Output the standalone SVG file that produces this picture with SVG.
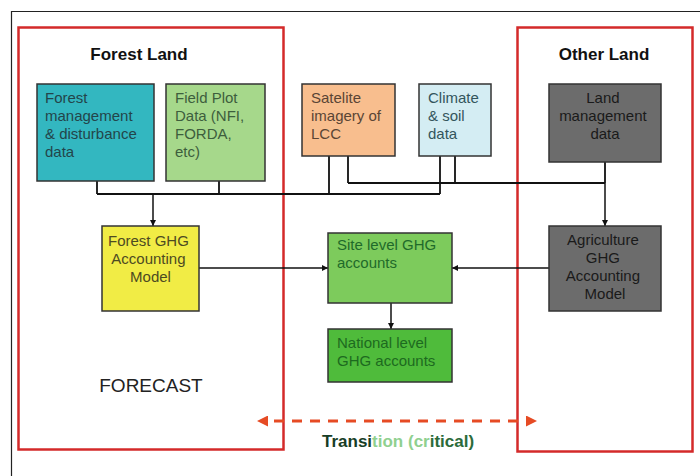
<svg xmlns="http://www.w3.org/2000/svg" width="700" height="476" viewBox="0 0 700 476">
  <defs>
    <style>
      text { font-family: "Liberation Sans", Arial, sans-serif; }
      .box { stroke: #333333; stroke-width: 1.5; }
      .zone { fill: none; stroke: #d42a2a; stroke-width: 2.5; }
      .lbl { font-size: 15px; }
      .title { font-size: 17px; font-weight: bold; fill: #111111; text-anchor: middle; }
      .wire { fill: none; stroke: #111111; stroke-width: 1.8; }
      .flow { fill: none; stroke: #111111; stroke-width: 1.5; marker-end: url(#tip); }
      .mid { text-anchor: middle; }
    </style>
    <marker id="tip" viewBox="0 0 10 10" refX="10" refY="5" markerWidth="6" markerHeight="6" markerUnits="userSpaceOnUse" orient="auto">
      <path d="M0,0 L10,5 L0,10 Z" fill="#111111"/>
    </marker>
    <!-- red head sits beyond the line end so the dash never pokes through the tip -->
    <marker id="redtip" viewBox="0 0 10 10" refX="0" refY="5" markerWidth="11" markerHeight="11" markerUnits="userSpaceOnUse" orient="auto-start-reverse">
      <path d="M0,0 L10,5 L0,10 Z" fill="#e64b24"/>
    </marker>
  </defs>

  <rect x="0" y="0" width="700" height="476" fill="#ffffff"/>
  <!-- outer frame -->
  <path d="M11.5,476 V11.5 H700" fill="none" stroke="#222222" stroke-width="1.2"/>

  <!-- land-use zones -->
  <g id="forest-land">
    <rect class="zone" x="18.5" y="27.5" width="265" height="422"/>
    <text class="title" x="139" y="60">Forest Land</text>
    <text x="151" y="392" font-size="19" fill="#222222" text-anchor="middle">FORECAST</text>
  </g>
  <g id="other-land">
    <rect class="zone" x="517.5" y="27.5" width="175" height="424"/>
    <text class="title" x="604" y="60">Other Land</text>
  </g>

  <!-- connectors -->
  <g id="connectors">
    <!-- lower data bus -->
    <path class="wire" d="M97,181 V194 M219,181 V194 M329,156 V194 M440,156 V194 M97,194 H440"/>
    <!-- upper data bus -->
    <path class="wire" d="M348,156 V183 M455,156 V183 M605,162 V183 M348,183 H605"/>
    <path class="flow" d="M153,194 V226"/>
    <path class="flow" d="M605,183 V226"/>
    <path class="flow" d="M199,268 H328"/>
    <path class="flow" d="M549,268 H452"/>
    <path class="flow" d="M391,303 V329"/>
    <!-- transition -->
    <path d="M268,421 H526" fill="none" stroke="#e64b24" stroke-width="3.2" stroke-dasharray="10,8" stroke-dashoffset="-6" marker-start="url(#redtip)" marker-end="url(#redtip)"/>
  </g>

  <g id="forest-mgmt">
    <rect class="box" x="37" y="84" width="117" height="97" fill="#33b7c0"/>
    <text class="lbl" fill="#23454a">
      <tspan x="45" y="103">Forest</tspan>
      <tspan x="45" y="121">management</tspan>
      <tspan x="45" y="139">&amp; disturbance</tspan>
      <tspan x="45" y="157">data</tspan>
    </text>
  </g>

  <g id="field-plot">
    <rect class="box" x="166" y="84" width="99" height="97" fill="#a6d88b"/>
    <text class="lbl" fill="#3d5e3d">
      <tspan x="175" y="103">Field Plot</tspan>
      <tspan x="175" y="121">Data (NFI,</tspan>
      <tspan x="175" y="139">FORDA,</tspan>
      <tspan x="175" y="157">etc)</tspan>
    </text>
  </g>

  <g id="satellite">
    <rect class="box" x="302" y="84" width="93" height="72" fill="#f8be8e"/>
    <text class="lbl" fill="#5a4535">
      <tspan x="311" y="103">Satelite</tspan>
      <tspan x="311" y="121">imagery of</tspan>
      <tspan x="311" y="139">LCC</tspan>
    </text>
  </g>

  <g id="climate-soil">
    <rect class="box" x="419" y="84" width="72" height="72" fill="#d4edf3"/>
    <text class="lbl" fill="#33555c">
      <tspan x="428" y="103">Climate</tspan>
      <tspan x="428" y="121">&amp; soil</tspan>
      <tspan x="428" y="139">data</tspan>
    </text>
  </g>

  <g id="land-mgmt">
    <rect class="box" x="549" y="84" width="112" height="78" fill="#6c6c6c"/>
    <text class="lbl mid" fill="#1a1a1a">
      <tspan x="605" y="103">Land</tspan>
      <tspan x="605" y="121">management</tspan>
      <tspan x="605" y="139">data</tspan>
    </text>
  </g>

  <g id="forest-ghg">
    <rect class="box" x="102" y="226" width="97" height="85" fill="#f1ec45"/>
    <text class="lbl mid" fill="#4d4a22">
      <tspan x="150.5" y="246">Forest GHG</tspan>
      <tspan x="150.5" y="264">Accounting</tspan>
      <tspan x="150.5" y="282">Model</tspan>
    </text>
  </g>

  <g id="site-ghg">
    <rect class="box" x="328" y="233" width="124" height="70" fill="#7dcb5c"/>
    <text class="lbl" fill="#1f6a2a">
      <tspan x="337" y="250">Site level GHG</tspan>
      <tspan x="337" y="268">accounts</tspan>
    </text>
  </g>

  <g id="national-ghg">
    <rect class="box" x="328" y="329" width="124" height="53" fill="#4fbb3b"/>
    <text class="lbl" fill="#1d6a1f">
      <tspan x="337" y="348">National level</tspan>
      <tspan x="337" y="366">GHG accounts</tspan>
    </text>
  </g>

  <g id="agri-ghg">
    <rect class="box" x="549" y="226" width="112" height="85" fill="#6c6c6c"/>
    <text class="lbl mid" fill="#1a1a1a">
      <tspan x="605" y="245">Agriculture</tspan>
      <tspan x="605" y="263">GHG</tspan>
      <tspan x="605" y="281">Accounting</tspan>
      <tspan x="605" y="299">Model</tspan>
    </text>
  </g>

  <g id="transition-label">
    <text x="322" y="447" font-size="17" font-weight="bold"><tspan fill="#173d26">Transi</tspan><tspan fill="#8fd08f">tion (cr</tspan><tspan fill="#2c6b3a">itical)</tspan></text>
  </g>
</svg>
